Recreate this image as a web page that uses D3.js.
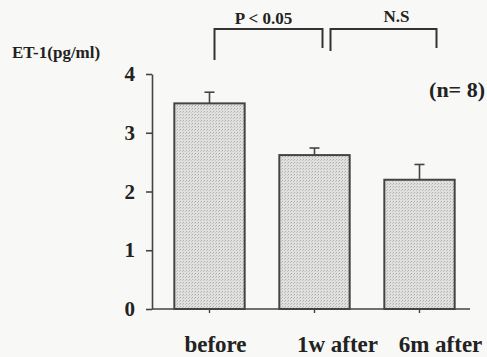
<!DOCTYPE html>
<html lang="en">
  <head>
    <meta charset="UTF-8" />
    <title>ET-1 before / after</title>
    <script src="https://d3js.org/d3.v7.min.js"></script>
    <style>
      body {
        margin: 0;
        background: #f8f8f6;
        font-family: "Liberation Serif", "Times New Roman", serif;
      }
      .axis path,
      .axis line {
        stroke: #444;
        stroke-width: 1.6px;
      }
      .axis text {
        font-family: "Liberation Serif", "Times New Roman", serif;
        font-weight: bold;
        fill: #222;
      }
    </style>
  </head>
  <body>
    <script>
      var groups = ["before", "1w after", "6m after"];
      var means = [3.5, 2.62, 2.2];
      var errors = [0.19, 0.12, 0.26];
      var yTicks = [0, 1, 2, 3, 4];
      var comparisons = [
        { from: "before", to: "1w after", label: "P < 0.05" },
        { from: "1w after", to: "6m after", label: "N.S" },
      ];

      var width = 487,
        height = 357;

      var svg = d3
        .select("body")
        .append("svg")
        .attr("width", width)
        .attr("height", height);

      // stippled grey fill like the scanned figure
      var pat = svg
        .append("defs")
        .append("pattern")
        .attr("id", "dots")
        .attr("width", 3)
        .attr("height", 3)
        .attr("patternUnits", "userSpaceOnUse");
      pat.append("rect").attr("width", 3).attr("height", 3).attr("fill", "#e0e0de");
      pat.append("rect").attr("width", 1).attr("height", 1).attr("fill", "#b0b0ae");
      pat.append("rect").attr("x", 2).attr("y", 1).attr("width", 1).attr("height", 1).attr("fill", "#c2c2c0");

      var axisX = 152;
      var x = d3
        .scaleBand()
        .domain(groups)
        .range([157, 472])
        .paddingInner(0.33)
        .paddingOuter(0.165);
      var y = d3.scaleLinear().domain([0, 4]).range([309, 74]);

      function cx(g) {
        return x(g) + x.bandwidth() / 2;
      }

      // y axis
      var yAxis = svg
        .append("g")
        .attr("class", "axis")
        .attr("transform", "translate(" + axisX + ",0)")
        .call(
          d3
            .axisLeft(y)
            .tickValues(yTicks)
            .tickFormat(d3.format("d"))
            .tickSize(6)
            .tickSizeOuter(0)
            .tickPadding(11)
        );
      yAxis.selectAll("text").style("font-size", "21px");

      // x axis line with small ticks under each bar
      svg
        .append("line")
        .attr("x1", axisX)
        .attr("x2", 470)
        .attr("y1", y(0))
        .attr("y2", y(0))
        .attr("stroke", "#444")
        .attr("stroke-width", 1.6);
      svg
        .selectAll(".xtick")
        .data(groups)
        .enter()
        .append("line")
        .attr("x1", cx)
        .attr("x2", cx)
        .attr("y1", y(0))
        .attr("y2", y(0) + 4)
        .attr("stroke", "#444")
        .attr("stroke-width", 1.4);

      // error bars (upper only)
      var eb = svg
        .selectAll(".err")
        .data(groups)
        .enter()
        .append("g");
      eb.append("line")
        .attr("x1", cx)
        .attr("x2", cx)
        .attr("y1", function (d, i) { return y(means[i]); })
        .attr("y2", function (d, i) { return y(means[i] + errors[i]); })
        .attr("stroke", "#444")
        .attr("stroke-width", 1.6);
      eb.append("line")
        .attr("x1", function (d) { return cx(d) - 5; })
        .attr("x2", function (d) { return cx(d) + 5; })
        .attr("y1", function (d, i) { return y(means[i] + errors[i]); })
        .attr("y2", function (d, i) { return y(means[i] + errors[i]); })
        .attr("stroke", "#444")
        .attr("stroke-width", 1.6);

      // bars
      svg
        .selectAll(".bar")
        .data(groups)
        .enter()
        .append("rect")
        .attr("x", function (d) { return x(d); })
        .attr("y", function (d, i) { return y(means[i]); })
        .attr("width", x.bandwidth())
        .attr("height", function (d, i) { return y(0) - y(means[i]); })
        .attr("fill", "url(#dots)")
        .attr("stroke", "#444")
        .attr("stroke-width", 2);

      // category labels (set slightly right of the ticks, as in the figure)
      var labelShift = [6, 23, 21];
      svg
        .selectAll(".xlabel")
        .data(groups)
        .enter()
        .append("text")
        .attr("x", function (d, i) { return cx(d) + labelShift[i]; })
        .attr("y", 352)
        .attr("text-anchor", "middle")
        .style("font-size", "23px")
        .style("font-weight", "bold")
        .style("fill", "#222")
        .text(function (d) { return d; });

      // significance brackets
      var bracketTop = 29;
      var legs = [
        [31, 19],
        [22, 19],
      ];
      var ends = [
        [5, 8],
        [16, 17],
      ];
      comparisons.forEach(function (c, i) {
        var x1 = cx(c.from) + ends[i][0];
        var x2 = cx(c.to) + ends[i][1];
        svg
          .append("path")
          .attr(
            "d",
            "M" + x1 + "," + (bracketTop + legs[i][0]) +
              "V" + bracketTop + "H" + x2 + "V" + (bracketTop + legs[i][1])
          )
          .attr("fill", "none")
          .attr("stroke", "#333")
          .attr("stroke-width", 2);
        svg
          .append("text")
          .attr("x", (x1 + x2) / 2 + (i === 0 ? -5 : 13))
          .attr("y", i === 0 ? 24 : 22)
          .attr("text-anchor", "middle")
          .style("font-size", "17px")
          .style("font-weight", "bold")
          .style("fill", "#222")
          .text(c.label);
      });

      // y title and n
      svg
        .append("text")
        .attr("x", 12)
        .attr("y", 58)
        .style("font-size", "17px")
        .style("font-weight", "bold")
        .style("fill", "#222")
        .text("ET-1(pg/ml)");
      svg
        .append("text")
        .attr("x", 485)
        .attr("y", 97)
        .attr("text-anchor", "end")
        .style("font-size", "22px")
        .style("font-weight", "bold")
        .style("fill", "#222")
        .text("(n= 8)");
    </script>
  </body>
</html>
